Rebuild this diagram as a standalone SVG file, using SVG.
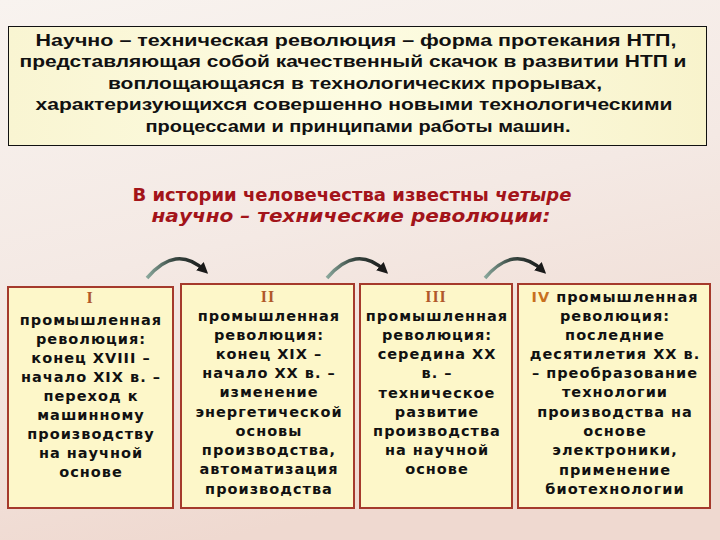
<svg xmlns="http://www.w3.org/2000/svg" width="720" height="540" viewBox="0 0 720 540">
<defs>
<linearGradient id="bg" x1="0" y1="0" x2="0.3" y2="1">
<stop offset="0" stop-color="#f8f3ef"/>
<stop offset="0.5" stop-color="#f4e9e4"/>
<stop offset="1" stop-color="#efd9d0"/>
</linearGradient>
<linearGradient id="topfill" x1="0" y1="0" x2="1" y2="0">
<stop offset="0" stop-color="#f9f5d2"/>
<stop offset="0.5" stop-color="#fdfce2"/>
<stop offset="1" stop-color="#f8f3cc"/>
</linearGradient>
<linearGradient id="arc" x1="0" y1="0" x2="1" y2="0">
<stop offset="0" stop-color="#8aa89c"/>
<stop offset="0.45" stop-color="#3a4a44"/>
<stop offset="1" stop-color="#1a1a1a"/>
</linearGradient>
<marker id="ah" viewBox="0 0 10 10" refX="5" refY="5" markerWidth="3.2" markerHeight="3.2" orient="auto">
<path d="M0,0 L10,5 L0,10 Z" fill="#1a1a1a"/>
</marker>
</defs>
<style>
.tb{font-family:"Liberation Sans",Arial,sans-serif;font-weight:bold;font-size:17px;fill:#111;text-anchor:middle}
.hd{font-family:"DejaVu Sans",Verdana,sans-serif;font-weight:bold;font-size:17px;fill:#a3141a;text-anchor:middle}
.bx{fill:#fdf7c9;stroke:#a53a2c;stroke-width:2}
.bt{font-family:"DejaVu Sans",Verdana,sans-serif;font-weight:bold;font-size:14.5px;fill:#111;text-anchor:middle;letter-spacing:1px}
.rn{font-family:"Liberation Serif","Times New Roman",serif;font-weight:bold;font-size:16px;fill:#b0582a;text-anchor:middle;letter-spacing:1px}
.rs{font-family:"DejaVu Sans",Verdana,sans-serif;font-weight:bold;fill:#c8701e}
.cn{fill:none;stroke:url(#arc);stroke-width:3.5;stroke-linecap:butt}
</style>
<rect x="0" y="0" width="720" height="540" fill="url(#bg)"/>
<g id="definition">
<rect x="8.5" y="26.5" width="698" height="119" fill="url(#topfill)" stroke="#111" stroke-width="1"/>
<text class="tb" x="356" y="46" textLength="641" lengthAdjust="spacingAndGlyphs">Научно – техническая революция – форма протекания НТП,</text>
<text class="tb" x="353" y="67" textLength="667" lengthAdjust="spacingAndGlyphs">представляющая собой качественный скачок в развитии НТП и</text>
<text class="tb" x="355" y="89" textLength="494" lengthAdjust="spacingAndGlyphs">воплощающаяся в технологических прорывах,</text>
<text class="tb" x="354" y="110" textLength="637" lengthAdjust="spacingAndGlyphs">характеризующихся совершенно новыми технологическими</text>
<text class="tb" x="358" y="132" textLength="425" lengthAdjust="spacingAndGlyphs">процессами и принципами работы машин.</text>
</g>
<g id="heading">
<text class="hd" x="352" y="201" textLength="439" lengthAdjust="spacingAndGlyphs">В истории человечества известны <tspan font-style="italic">четыре</tspan></text>
<text class="hd" x="351" y="222" font-style="italic" textLength="399" lengthAdjust="spacingAndGlyphs">научно – технические революции:</text>
</g>
<g id="connectors">
<path class="cn" d="M147,278 Q176,244 204,270" marker-end="url(#ah)"/>
<path class="cn" d="M327,278 Q356,244 384,270" marker-end="url(#ah)"/>
<path class="cn" d="M485,278 Q514,244 542,270" marker-end="url(#ah)"/>
</g>
<g id="rev1">
<rect class="bx" x="8" y="287" width="165" height="221"/>
<text class="rn" x="90" y="303">I</text>
<text class="bt" x="91" y="325">промышленная</text>
<text class="bt" x="91" y="344">революция:</text>
<text class="bt" x="91" y="363">конец XVIII –</text>
<text class="bt" x="91" y="382">начало XIX в. –</text>
<text class="bt" x="91" y="401">переход к</text>
<text class="bt" x="91" y="420">машинному</text>
<text class="bt" x="91" y="439">производству</text>
<text class="bt" x="91" y="458">на научной</text>
<text class="bt" x="91" y="477">основе</text>
</g>
<g id="rev2">
<rect class="bx" x="181" y="284" width="173" height="224"/>
<text class="rn" x="268" y="302">II</text>
<text class="bt" x="269" y="321">промышленная</text>
<text class="bt" x="269" y="340">революция:</text>
<text class="bt" x="269" y="359">конец XIX –</text>
<text class="bt" x="269" y="378">начало XX в. –</text>
<text class="bt" x="269" y="397">изменение</text>
<text class="bt" x="269" y="417">энергетической</text>
<text class="bt" x="269" y="436">основы</text>
<text class="bt" x="269" y="455">производства,</text>
<text class="bt" x="269" y="474">автоматизация</text>
<text class="bt" x="269" y="494">производства</text>
</g>
<g id="rev3">
<rect class="bx" x="360" y="284" width="152" height="224"/>
<text class="rn" x="436" y="302">III</text>
<text class="bt" x="437" y="321" font-size="13.8">промышленная</text>
<text class="bt" x="437" y="340">революция:</text>
<text class="bt" x="437" y="359">середина XX</text>
<text class="bt" x="437" y="378">в. –</text>
<text class="bt" x="437" y="398">техническое</text>
<text class="bt" x="437" y="417">развитие</text>
<text class="bt" x="437" y="436">производства</text>
<text class="bt" x="437" y="455">на научной</text>
<text class="bt" x="437" y="474">основе</text>
</g>
<g id="rev4">
<rect class="bx" x="518" y="284" width="192" height="224"/>
<text class="bt" x="615" y="302"><tspan class="rs">IV</tspan> промышленная</text>
<text class="bt" x="615" y="321">революция:</text>
<text class="bt" x="615" y="340">последние</text>
<text class="bt" x="615" y="359">десятилетия XX в.</text>
<text class="bt" x="615" y="378">– преобразование</text>
<text class="bt" x="615" y="397">технологии</text>
<text class="bt" x="615" y="417">производства на</text>
<text class="bt" x="615" y="436">основе</text>
<text class="bt" x="615" y="455">электроники,</text>
<text class="bt" x="615" y="475">применение</text>
<text class="bt" x="615" y="494">биотехнологии</text>
</g>
</svg>
